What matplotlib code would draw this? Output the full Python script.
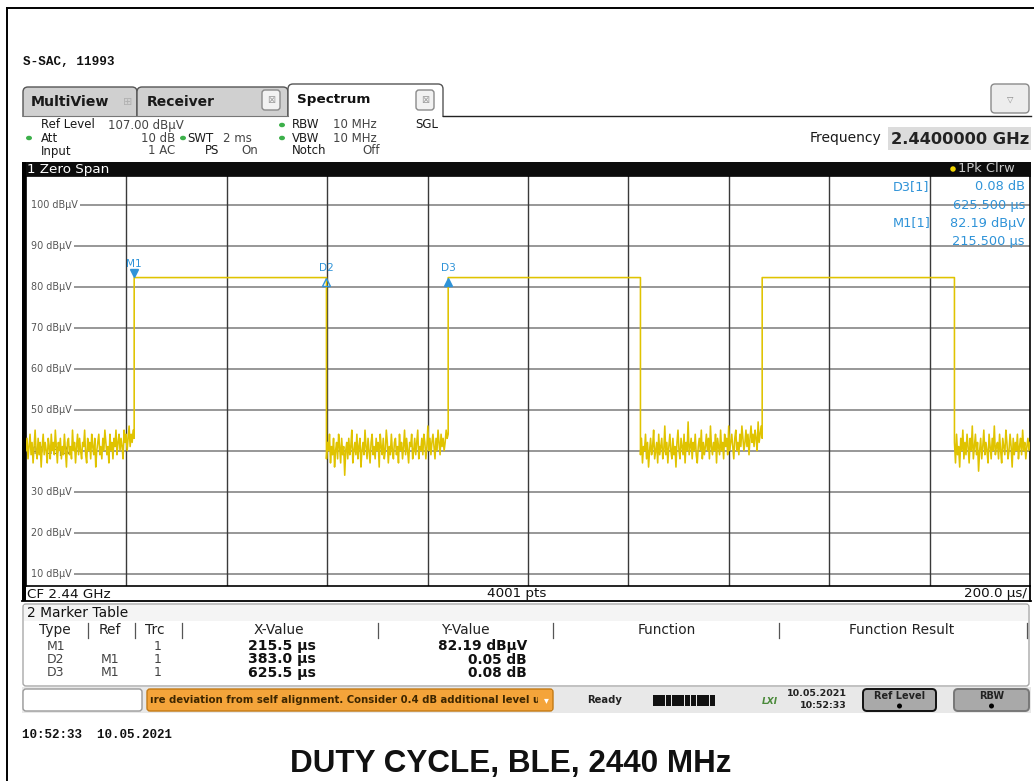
import numpy as np
import matplotlib
matplotlib.use('Agg')
import matplotlib.pyplot as plt
from matplotlib.patches import Rectangle, FancyBboxPatch, Ellipse
from matplotlib import transforms

# ---------------- values ----------------
span_us = 2000.0
ref_level = 107.0
bottom_level = 7.0
grid_levels = [100, 90, 80, 70, 60, 50, 40, 30, 20, 10]
grid_times = [200, 400, 600, 800, 1000, 1200, 1400, 1600, 1800]

rise_us = [215.5, 841.0, 1466.5]
fall_us = [598.5, 1224.0, 1849.5]
pulse_level = 82.19

# noise floor between the bursts (dBuV), read by eye
noise_1 = [40, 43, 38, 41, 44, 39, 42, 37, 41, 45, 40, 38, 43, 39, 42, 36, 41, 44,
           39, 42, 40, 37, 43, 41, 38, 44, 40, 42, 39, 45, 41, 37, 42, 40, 43, 38,
           41, 39, 44, 40, 36, 42, 43, 39, 41, 38, 45, 40, 42, 37, 41, 44, 39, 43,
           40, 38, 42, 41, 45, 39, 37, 43, 40, 42, 38, 44, 41, 39, 43, 36, 40, 42,
           44, 39, 41, 38, 43, 40, 45, 42, 39, 41, 37, 44, 40, 42, 38, 43, 41, 45,
           39, 42, 44, 40, 43, 41, 38, 45, 42, 44, 40, 43, 46, 41, 44, 42, 45, 43]
noise_2 = [38, 42, 40, 44, 37, 41, 39, 43, 36, 40, 42, 38, 44, 41, 37, 43, 39, 41,
           34, 40, 42, 38, 43, 39, 41, 45, 37, 40, 42, 39, 44, 38, 41, 43, 36, 40,
           42, 39, 45, 41, 38, 43, 40, 37, 42, 44, 39, 41, 38, 43, 40, 42, 36, 44,
           41, 39, 43, 38, 40, 45, 42, 37, 41, 39, 44, 40, 38, 42, 43, 39, 41, 37,
           44, 40, 42, 38, 41, 45, 39, 43, 40, 37, 42, 41, 44, 38, 40, 43, 39, 42,
           45, 38, 41, 40, 43, 39, 44, 42, 38, 41, 46, 40, 43, 39, 42, 44, 41, 38,
           43, 40, 45, 42, 39, 44, 41, 43, 40, 42, 45, 43, 44]
noise_3 = [39, 43, 37, 41, 40, 44, 38, 42, 36, 40, 43, 39, 41, 45, 38, 40, 42, 37,
           44, 39, 41, 43, 38, 40, 46, 39, 42, 37, 41, 44, 40, 38, 43, 39, 41, 36,
           42, 45, 40, 38, 43, 41, 39, 44, 37, 42, 40, 47, 39, 41, 43, 38, 42, 40,
           44, 39, 37, 41, 43, 40, 45, 38, 42, 39, 41, 44, 40, 43, 38, 46, 41, 39,
           42, 40, 44, 37, 43, 41, 39, 45, 40, 42, 38, 44, 41, 43, 39, 46, 40, 42,
           44, 41, 38, 43, 45, 40, 42, 39, 44, 41, 46, 43, 40, 42, 45, 41, 44, 39,
           43, 46, 42, 44, 41, 45, 43, 40, 47, 42, 44, 46, 43]
noise_4 = [42, 37, 44, 39, 41, 36, 43, 40, 45, 38, 42, 39, 44, 41, 37, 43, 40, 46,
           38, 41, 44, 39, 42, 35, 40, 43, 38, 41, 45, 39, 42, 40, 37, 44, 41, 38,
           43, 40, 46, 39, 41, 42, 38, 44, 40, 37, 43, 41, 39, 45, 42, 38, 40, 44,
           41, 36, 43, 39, 42, 40, 44, 38, 41, 43, 39, 45, 40, 42, 38, 41, 43, 40, 42]

# marker table
mk_type = ['M1', 'D2', 'D3']
mk_ref = ['', 'M1', 'M1']
mk_trc = ['1', '1', '1']
mk_x_us = [215.5, 383.0, 625.5]
mk_y = [82.19, 0.05, 0.08]
mk_unit = ['dBµV', 'dB', 'dB']

BLUE = '#2f93d8'
YEL = '#e0c300'

# ---------------- build the trace ----------------
noise_bounds = [(0.0, rise_us[0]), (fall_us[0], rise_us[1]),
                (fall_us[1], rise_us[2]), (fall_us[2], span_us)]
noise_sets = [noise_1, noise_2, noise_3, noise_4]
t_parts, y_parts = [], []
for i, ((a, b), nz) in enumerate(zip(noise_bounds, noise_sets)):
    t_parts.append(np.linspace(a, b, len(nz)))
    y_parts.append(np.array(nz, dtype=float))
    if i < len(rise_us):
        t_parts.append(np.array([rise_us[i], fall_us[i]]))
        y_parts.append(np.array([pulse_level, pulse_level]))
t_trace = np.concatenate(t_parts)
y_trace = np.concatenate(y_parts)

# ---------------- figure ----------------
W, H = 1034, 781
fig = plt.figure(figsize=(W / 100, H / 100), dpi=100)

px_l, px_r, px_t, px_b = 26, 1030, 175.8, 586
ax = fig.add_axes([px_l / W, (H - px_b) / H, (px_r - px_l) / W, (px_b - px_t) / H])
ax.set_xlim(0, span_us)
ax.set_ylim(bottom_level, ref_level)
ax.set_xticks([])
ax.set_yticks([])
for s in ax.spines.values():
    s.set_color('black')
    s.set_linewidth(1.2)

ylab_tr = transforms.blended_transform_factory(ax.transAxes, ax.transData)
for lv in grid_levels:
    ax.axhline(lv, color='#7a7a7a', lw=1.1, zorder=1)
    ax.text(0.002, lv, f' {lv} dBµV', transform=ylab_tr,
            fontsize=6.9, color='#555555', va='center', ha='left', zorder=2,
            bbox=dict(fc='white', ec='none', pad=1.5))
for tm in grid_times:
    ax.axvline(tm, color='#3a3a3a', lw=1.0, zorder=1)

ax.plot(t_trace, y_trace, color=YEL, lw=1.15, zorder=3)

# markers on the trace
m1_t = mk_x_us[0]
abs_t = [m1_t] + [m1_t + d for d in mk_x_us[1:]]
abs_y = [mk_y[0]] + [mk_y[0] + d for d in mk_y[1:]]
up = transforms.offset_copy(ax.transData, fig=fig, x=0, y=4.2, units='dots')
down = transforms.offset_copy(ax.transData, fig=fig, x=0, y=-4.5, units='dots')
ax.plot([abs_t[0]], [abs_y[0]], marker='v', ms=6, color=BLUE, transform=up, zorder=5, clip_on=False)
ax.plot([abs_t[1]], [abs_y[1]], marker='^', ms=6.2, mfc='none', mec=BLUE, mew=1, transform=down, zorder=5)
ax.plot([abs_t[2]], [abs_y[2]], marker='^', ms=6.2, color=BLUE, transform=down, zorder=5)
for name, tx, ty, off in zip(mk_type, abs_t, abs_y, [14, 9, 9]):
    ax.annotate(name, (tx, ty), xytext=(0, off), textcoords='offset pixels',
                ha='center', va='center', fontsize=7.6, color=BLUE, zorder=5)

# ---------------- screen furniture in pixel coordinates ----------------
ui = fig.add_axes([0, 0, 1, 1], zorder=2)
ui.set_xlim(0, W)
ui.set_ylim(H, 0)
ui.axis('off')
ui.patch.set_visible(False)


def box(x0, y0, x1, y1, fc, ec='none', lw=1.0, r=0.0, z=1):
    if r:
        p = FancyBboxPatch((x0 + r, y0 + r), x1 - x0 - 2 * r, y1 - y0 - 2 * r,
                           boxstyle=f'round,pad={r},rounding_size={r}',
                           fc=fc, ec=ec, lw=lw, zorder=z)
    else:
        p = Rectangle((x0, y0), x1 - x0, y1 - y0, fc=fc, ec=ec, lw=lw, zorder=z)
    ui.add_patch(p)
    return p


def txt(x, y, s, size=8, weight='normal', color='#222222', ha='left', va='center', z=5, **kw):
    return ui.text(x, y, s, fontsize=size, fontweight=weight, color=color, ha=ha, va=va, zorder=z, **kw)


# outer frame of the report page
ui.plot([7, 7], [8, H], color='black', lw=1.4, zorder=6)
ui.plot([7, W], [8, 8], color='black', lw=1.4, zorder=6)

txt(23, 62, 'S-SAC, 11993', size=9.1, weight='bold', family='Liberation Mono', color='#111111')

# tabs
box(23, 87, 137, 124, '#d0d0d0', ec='#555555', r=5, z=1)
box(137, 87, 288, 124, '#d0d0d0', ec='#555555', r=5, z=1)
box(288, 84, 443, 124, '#ffffff', ec='#555555', r=5, z=1)
box(22, 116.5, 1031, 162, '#ffffff', z=2)
ui.plot([23, 288], [116, 116], color='#777777', lw=0.8, zorder=3)
ui.plot([443, 1031], [116, 116], color='#222222', lw=1.0, zorder=3)
txt(31, 102, 'MultiView', size=10.2, weight='bold', color='#1a1a1a')
txt(128, 102, '⊞', size=8, color='#b0b0b0', ha='center')
txt(147, 102, 'Receiver', size=10, weight='bold', color='#1a1a1a')
txt(297, 100, 'Spectrum', size=9.7, weight='bold', color='#111111')
for cx in (271, 425):
    box(cx - 9, 90, cx + 9, 110, '#f2f2f2', ec='#8a8a8a', r=3, z=3)
    txt(cx, 100, '⊠', size=7, color='#9a9a9a', ha='center')
box(991, 84, 1029, 113, '#ededed', ec='#8a8a8a', r=4, z=3)
txt(1010, 99, '▽', size=6, color='#888888', ha='center')

# setting rows
rows_y = [125, 138, 151]
lab = dict(size=8.5, color='#1a1a1a')
val = dict(size=8.5, color='#444444')
txt(41, rows_y[0], 'Ref Level', **lab)
txt(108, rows_y[0], '107.00 dBµV', **val)
txt(41, rows_y[1], 'Att', **lab)
txt(175, rows_y[1], '10 dB', ha='right', **val)
txt(187, rows_y[1], 'SWT', **lab)
txt(223, rows_y[1], '2 ms', **val)
txt(41, rows_y[2], 'Input', **lab)
txt(175, rows_y[2], '1 AC', ha='right', **val)
txt(205, rows_y[2], 'PS', **lab)
txt(258, rows_y[2], 'On', ha='right', **val)
txt(292, rows_y[0], 'RBW', **lab)
txt(333, rows_y[0], '10 MHz', **val)
txt(292, rows_y[1], 'VBW', **lab)
txt(333, rows_y[1], '10 MHz', **val)
txt(292, rows_y[2], 'Notch', **lab)
txt(380, rows_y[2], 'Off', ha='right', **val)
txt(415, rows_y[0], 'SGL', **lab)
for dx, dy in [(29, rows_y[1]), (183, rows_y[1]), (282, rows_y[0]), (282, rows_y[1])]:
    ui.add_patch(Ellipse((dx, dy), 6, 4.5, fc='#3cb04a', ec='none', zorder=4))

txt(810, 138, 'Frequency', size=10, color='#1a1a1a')
box(888, 127, 1031, 150, '#dcdcdc', z=3)
txt(1029, 139, '2.4400000 GHz', size=11.7, weight='bold', color='#222222', ha='right')

# "1 Zero Span" header bar and left edge of the diagram
box(22, 162, 1031, 176, '#0c0c0c', z=3)
box(22, 162, 26, 601, '#000000', z=3)
txt(27, 169, '1 Zero Span', size=9.7, color='white')
ui.add_patch(Ellipse((953, 169), 5.5, 5.5, fc='#f2d500', ec='none', zorder=5))
txt(958, 169, '1Pk Clrw', size=9.4, color='#c8c8c8')

# marker readout in the diagram corner
rd = dict(size=9.3, color=BLUE)
txt(893, 187, f'{mk_type[2]}[1]', **rd)
txt(1025, 187, f'{mk_y[2]:.2f} {mk_unit[2]}', ha='right', **rd)
txt(1025, 205, f'{mk_x_us[2]:.3f} µs', ha='right', **rd)
txt(893, 223, f'{mk_type[0]}[1]', **rd)
txt(1025, 223, f'{mk_y[0]:.2f} {mk_unit[0]}', ha='right', **rd)
txt(1025, 242, f'{mk_x_us[0]:.3f} µs', ha='right', **rd)

# CF row below the diagram
ui.plot([22, 1031], [601, 601], color='black', lw=1.3, zorder=4)
ui.plot([1030, 1030], [586, 601], color='black', lw=1.3, zorder=4)
txt(27, 594, 'CF 2.44 GHz', size=9.7, color='#111111')
txt(517, 594, '4001 pts', size=9.7, color='#111111', ha='center')
txt(1027, 594, '200.0 µs/', size=9.7, color='#111111', ha='right')

# marker table
box(23, 604, 1029, 686, '#ffffff', ec='#a8a8a8', r=3, z=1)
box(24, 605, 1028, 621, '#f4f4f4', z=2)
txt(27, 613, '2 Marker Table', size=9.9, color='#111111')
heads = [('Type', 55), ('Ref', 110), ('Trc', 155), ('X-Value', 279), ('Y-Value', 465),
         ('Function', 667), ('Function Result', 902)]
for h, hx in heads:
    txt(hx, 630, h, size=9.9, color='#222222', ha='center')
for sx in [88, 135, 182, 378, 553, 779, 1027]:
    ui.plot([sx, sx], [623, 638], color='#555555', lw=0.9, zorder=4)
for i, ry in enumerate([646, 659.5, 673]):
    txt(56, ry, mk_type[i], size=9, color='#444444', ha='center')
    txt(110, ry, mk_ref[i], size=9, color='#444444', ha='center')
    txt(158, ry, mk_trc[i], size=9, color='#444444', ha='center')
    txt(316, ry, f'{mk_x_us[i]:.1f} µs', size=10.1, weight='bold', color='#111111', ha='right')
    txt(527, ry, f'{mk_y[i]:.2f} {mk_unit[i]}', size=9.9, weight='bold', color='#111111', ha='right')

# status bar
box(22, 687, 1031, 713, '#e8e8e8', z=1)
box(23, 689, 142, 711, '#ffffff', ec='#9a9a9a', r=3, z=2)
ob = box(147, 689, 553, 711, '#f4a43a', ec='#c47a14', r=3, z=2)
t = txt(150, 700, 'ıre deviation from self alignment. Consider 0.4 dB additional level ur',
        size=7.3, weight='bold', color='#3d2600')
t.set_clip_path(ob)
box(538, 690, 552, 710, '#f4a43a', z=5)
txt(546, 700, '▾', size=7, color='white', ha='center', z=6)
txt(587, 700, 'Ready', size=7.2, weight='bold', color='#222222')
for i in range(10):
    box(653 + i * 6.3, 695, 653 + i * 6.3 + 5.6, 706, '#111111', z=3)
txt(770, 701, 'LXI', size=6.5, weight='bold', style='italic', color='#4a8a3a', ha='center')
txt(847, 694, '10.05.2021', size=6.8, weight='bold', color='#222222', ha='right')
txt(847, 706, '10:52:33', size=6.8, weight='bold', color='#222222', ha='right')
for (x0, x1, lab_s, ec) in [(863, 936, 'Ref Level', '#111111'), (954, 1029, 'RBW', '#777777')]:
    box(x0, 689, x1, 711, '#a9a9a9', ec=ec, lw=1.4, r=4, z=2)
    cx = (x0 + x1) / 2
    txt(cx, 696, lab_s, size=7, weight='bold', color='#222222', ha='center')
    ui.add_patch(Ellipse((cx, 706), 5, 5, fc='black', ec='none', zorder=4))

txt(22, 735, '10:52:33  10.05.2021', size=9, weight='bold', family='Liberation Mono', color='#111111')
txt(511, 764, 'DUTY CYCLE, BLE, 2440 MHz', size=22.6, weight='bold', family='Liberation Sans',
    color='#111111', ha='center')

fig.savefig('out.png', dpi=100)
